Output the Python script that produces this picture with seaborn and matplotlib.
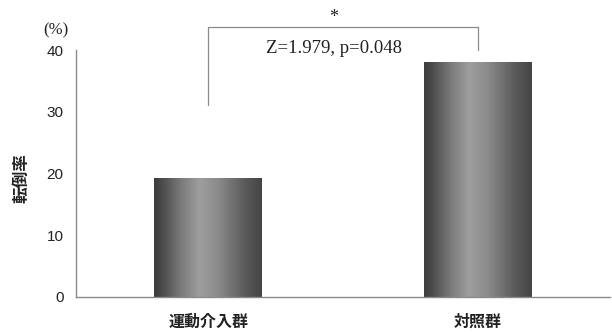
import numpy as np
import pandas as pd
import matplotlib
matplotlib.use("Agg")
import matplotlib.pyplot as plt
import seaborn as sns

# Fall rate (%) per group
groups = ["運動介入群", "対照群"]
rates = [19.3, 38.1]
yticks = [0, 10, 20, 30, 40]
stat_text = "Z=1.979, p=0.048"
sig_mark = "*"

sns.set_theme(style="white")
plt.rcParams["font.family"] = ["Liberation Sans", "Noto Sans CJK JP", "DejaVu Sans"]

df = pd.DataFrame({"group": groups, "rate": rates})

fig = plt.figure(figsize=(6.12, 3.32), dpi=100)
ax = fig.add_axes([76 / 612, 1 - 297 / 332, (610 - 76) / 612, (297 - 50) / 332])

sns.barplot(data=df, x="group", y="rate", ax=ax, width=0.4,
            color="#555555", edgecolor="none", linewidth=0)

# Cylindrical shading for each bar: dark edges, light band left of centre
t = np.linspace(0, 1, 256)
shade = np.interp(t, [0, 0.08, 0.25, 0.42, 0.6, 0.85, 1.0],
                  [0.24, 0.30, 0.48, 0.62, 0.54, 0.35, 0.27])
grad = np.tile(shade, (2, 1))
for patch in ax.patches:
    x0, y0 = patch.get_x(), patch.get_y()
    w, h = patch.get_width(), patch.get_height()
    im = ax.imshow(grad, cmap="gray", vmin=0, vmax=1, aspect="auto",
                   extent=[x0, x0 + w, y0, y0 + h], interpolation="bilinear",
                   zorder=patch.get_zorder() + 0.1)
    im.set_clip_path(patch)

ax.set_xlim(-0.49, 1.49)
ax.set_ylim(0, 40)
ax.set_yticks(yticks)
ax.set_xlabel("")
ax.set_ylabel("")

for side in ["top", "right"]:
    ax.spines[side].set_visible(False)
for side in ["left", "bottom"]:
    ax.spines[side].set_color("#8a8a8a")
    ax.spines[side].set_linewidth(1.0)

ax.tick_params(axis="y", direction="in", length=3, width=0.9, color="#8a8a8a",
               pad=9, labelsize=11, labelcolor="#222222")
ax.tick_params(axis="x", length=0, pad=12, labelsize=11.5, labelcolor="#222222")
for lab in ax.get_xticklabels():
    lab.set_fontfamily(["Noto Sans CJK JP", "DejaVu Sans"])
    lab.set_fontweight("bold")

# Axis titles
fig.text(56 / 612, 1 - 30 / 332, "(%)", ha="center", va="center",
         family="Liberation Serif", fontsize=12, color="#222222")
fig.text(22 / 612, 1 - 178 / 332, "転倒率", ha="center", va="center",
         rotation=90, family=["Noto Sans CJK JP", "DejaVu Sans"],
         fontweight="bold", fontsize=12, color="#222222")

# Significance bracket between the two groups
bx0, bx1 = 0, 1
btop = 43.8
ax.plot([bx0, bx0, bx1, bx1], [31.1, btop, btop, 40.0], color="#8a8a8a",
        linewidth=0.9, clip_on=False)
ax.text(0.465, 45.3, sig_mark, ha="center", va="center",
        family="Liberation Serif", fontsize=13, color="#222222", clip_on=False)
ax.text(0.465, 40.2, stat_text, ha="center", va="center",
        family="Liberation Serif", fontsize=13.5, color="#222222", clip_on=False)

fig.savefig("out.png", dpi=100, facecolor="white")
